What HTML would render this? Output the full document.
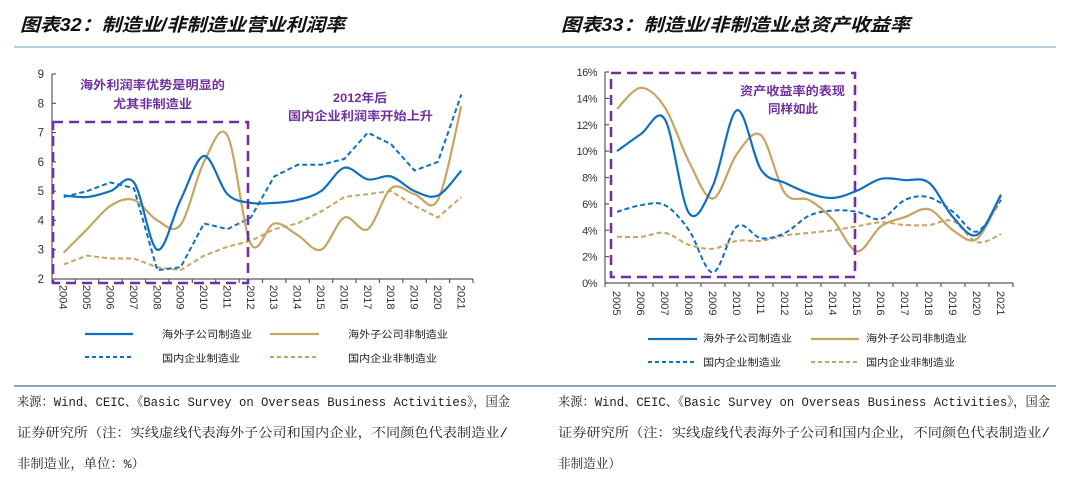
<!DOCTYPE html>
<html><head><meta charset="utf-8"><style>
html,body{margin:0;padding:0;background:#fff;}
svg{display:block;}
text{font-family:"Liberation Sans","Noto Sans CJK SC",sans-serif;}
.t{font-size:18px;font-style:italic;font-weight:bold;fill:#111;}
.ax{stroke:#5a5a5a;stroke-width:1.2;fill:none;}
.yl{font-size:11.5px;fill:#333;}
.xl{font-size:11px;fill:#333;}
.ann{font-size:12px;font-weight:bold;fill:#7030A0;}
.lg{font-size:10px;fill:#222;}
.src{font-size:13px;fill:#222;font-family:"Liberation Mono","Noto Serif CJK SC",monospace;}
.box{fill:none;stroke:#7030A0;stroke-width:2.6;stroke-dasharray:10,6;}
</style></head><body>
<svg id="s" width="1080" height="478" viewBox="0 0 1080 478" xmlns="http://www.w3.org/2000/svg">
<!-- titles -->
<text class="t" x="20" y="31" textLength="325" lengthAdjust="spacingAndGlyphs">图表32：制造业/非制造业营业利润率</text>
<text class="t" x="561" y="31" textLength="349" lengthAdjust="spacingAndGlyphs">图表33：制造业/非制造业总资产收益率</text>
<line x1="14" y1="47" x2="1056" y2="47" stroke="#8fb0cc" stroke-width="1.3"/>

<!-- LEFT CHART -->
<g id="L"></g>
<rect class="box" x="53" y="122" width="195" height="161"/>
<text class="ann" x="80" y="89" textLength="145" lengthAdjust="spacingAndGlyphs">海外利润率优势是明显的</text>
<text class="ann" x="113" y="108" textLength="79" lengthAdjust="spacingAndGlyphs">尤其非制造业</text>
<text class="ann" x="333" y="102" textLength="54" lengthAdjust="spacingAndGlyphs">2012年后</text>
<text class="ann" x="288" y="120" textLength="145" lengthAdjust="spacingAndGlyphs">国内企业利润率开始上升</text>

<!-- left legend -->
<line x1="85" y1="334" x2="133" y2="334" stroke="#0f6fc1" stroke-width="2.2"/>
<text class="lg" x="162" y="338" textLength="90" lengthAdjust="spacingAndGlyphs">海外子公司制造业</text>
<line x1="270" y1="334" x2="319" y2="334" stroke="#c7a461" stroke-width="2.2"/>
<text class="lg" x="348" y="338" textLength="100" lengthAdjust="spacingAndGlyphs">海外子公司非制造业</text>
<line x1="85" y1="357" x2="133" y2="357" stroke="#0f6fc1" stroke-width="2" stroke-dasharray="4,3"/>
<text class="lg" x="162" y="362" textLength="78" lengthAdjust="spacingAndGlyphs">国内企业制造业</text>
<line x1="270" y1="357" x2="319" y2="357" stroke="#c7a461" stroke-width="2" stroke-dasharray="4,3"/>
<text class="lg" x="348" y="362" textLength="89" lengthAdjust="spacingAndGlyphs">国内企业非制造业</text>

<!-- RIGHT CHART -->
<g id="R"></g>
<rect class="box" x="611" y="73" width="244" height="204"/>
<text class="ann" x="740" y="95" textLength="105" lengthAdjust="spacingAndGlyphs">资产收益率的表现</text>
<text class="ann" x="768" y="113" textLength="50" lengthAdjust="spacingAndGlyphs">同样如此</text>

<!-- right legend -->
<line x1="648" y1="339" x2="697" y2="339" stroke="#0f6fc1" stroke-width="2.2"/>
<text class="lg" x="703" y="342" textLength="89" lengthAdjust="spacingAndGlyphs">海外子公司制造业</text>
<line x1="811" y1="339" x2="859" y2="339" stroke="#c7a461" stroke-width="2.2"/>
<text class="lg" x="866" y="342" textLength="101" lengthAdjust="spacingAndGlyphs">海外子公司非制造业</text>
<line x1="648" y1="362" x2="697" y2="362" stroke="#0f6fc1" stroke-width="2" stroke-dasharray="4,3"/>
<text class="lg" x="703" y="366" textLength="78" lengthAdjust="spacingAndGlyphs">国内企业制造业</text>
<line x1="811" y1="362" x2="859" y2="362" stroke="#c7a461" stroke-width="2" stroke-dasharray="4,3"/>
<text class="lg" x="866" y="366" textLength="89" lengthAdjust="spacingAndGlyphs">国内企业非制造业</text>

<!-- source rule -->
<line x1="14" y1="386" x2="1056" y2="386" stroke="#4a6a8a" stroke-width="1.3"/>

<text class="src" x="17" y="406" textLength="493" lengthAdjust="spacingAndGlyphs">来源：Wind、CEIC、《Basic Survey on Overseas Business Activities》，国金</text>
<text class="src" x="17" y="437" textLength="491" lengthAdjust="spacingAndGlyphs">证券研究所（注：实线虚线代表海外子公司和国内企业，不同颜色代表制造业/</text>
<text class="src" x="17" y="468" textLength="128" lengthAdjust="spacingAndGlyphs">非制造业，单位：%）</text>

<text class="src" x="558" y="406" textLength="492" lengthAdjust="spacingAndGlyphs">来源：Wind、CEIC、《Basic Survey on Overseas Business Activities》，国金</text>
<text class="src" x="558" y="437" textLength="492" lengthAdjust="spacingAndGlyphs">证券研究所（注：实线虚线代表海外子公司和国内企业，不同颜色代表制造业/</text>
<text class="src" x="558" y="468" textLength="63" lengthAdjust="spacingAndGlyphs">非制造业）</text>
</svg>
<script>
(function(){
var NS="http://www.w3.org/2000/svg";
function el(parent,tag,attrs,txt){var e=document.createElementNS(NS,tag);for(var k in attrs)e.setAttribute(k,attrs[k]);if(txt!==undefined)e.textContent=txt;parent.appendChild(e);return e;}
function smooth(p){var d="M"+p[0][0].toFixed(1)+","+p[0][1].toFixed(1);for(var i=0;i<p.length-1;i++){var p0=p[i-1]||p[i],p1=p[i],p2=p[i+1],p3=p[i+2]||p2;var c1x=p1[0]+(p2[0]-p0[0])/6,c1y=p1[1]+(p2[1]-p0[1])/6,c2x=p2[0]-(p3[0]-p1[0])/6,c2y=p2[1]-(p3[1]-p1[1])/6;d+=" C"+c1x.toFixed(1)+","+c1y.toFixed(1)+" "+c2x.toFixed(1)+","+c2y.toFixed(1)+" "+p2[0].toFixed(1)+","+p2[1].toFixed(1);}return d;}
function straight(p){return "M"+p.map(function(q){return q[0].toFixed(1)+","+q[1].toFixed(1);}).join(" L");}
var BLUE="#0f6fc1",GOLD="#c7a461";

// LEFT
var L=document.getElementById("L");
var lx0=52,lx1=473,ly0=279,ly1=74,ln=18,lw=(lx1-lx0)/ln,lu=(ly0-ly1)/7;
function LX(i){return lx0+lw*(i+0.5);} function LY(v){return ly0-(v-2)*lu;}
el(L,"path",{d:"M"+lx0+","+ly1+" L"+lx0+","+ly0+" L"+lx1+","+ly0,"class":"ax"});
for(var v=2;v<=9;v++){var y=LY(v);el(L,"line",{x1:lx0,y1:y,x2:lx0+4,y2:y,"class":"ax"});el(L,"text",{x:44,y:y+4,"text-anchor":"end","class":"yl"},String(v));}
for(var k=0;k<=ln;k++){var x=lx0+lw*k;el(L,"line",{x1:x,y1:ly0,x2:x,y2:ly0+4,"class":"ax"});}
for(var i=0;i<ln;i++){var x=LX(i)-1;el(L,"text",{x:0,y:0,transform:"translate("+x+",285) rotate(90)","dominant-baseline":"central","class":"xl"},String(2004+i));}
var lbs=[4.85,4.8,5.0,5.3,3.0,4.7,6.2,4.9,4.6,4.6,4.7,5.0,5.8,5.4,5.5,5.0,4.85,5.7];
var lgs=[2.9,3.7,4.5,4.7,4.0,3.85,6.0,6.9,3.2,3.9,3.5,3.0,4.1,3.7,5.1,4.9,4.7,7.9];
var lbd=[4.8,5.0,5.3,5.1,2.3,2.4,3.9,3.7,4.1,5.5,5.9,5.9,6.1,7.0,6.6,5.7,6.0,8.3];
var lgd=[2.5,2.8,2.7,2.7,2.4,2.3,2.8,3.1,3.3,3.7,3.9,4.3,4.8,4.9,5.0,4.5,4.1,4.8];
function pts(a,fx,fy){return a.map(function(v,i){return [fx(i),fy(v)];});}
el(L,"path",{d:straight(pts(lgd,LX,LY)),fill:"none",stroke:GOLD,"stroke-width":2,"stroke-dasharray":"5,3"});
el(L,"path",{d:straight(pts(lbd,LX,LY)),fill:"none",stroke:BLUE,"stroke-width":2,"stroke-dasharray":"5,3"});
el(L,"path",{d:smooth(pts(lgs,LX,LY)),fill:"none",stroke:GOLD,"stroke-width":2.2});
el(L,"path",{d:smooth(pts(lbs,LX,LY)),fill:"none",stroke:BLUE,"stroke-width":2.2});

// RIGHT
var R=document.getElementById("R");
var rx0=605,rx1=1013,ry0=283,ry1=72,rn=17,rw=(rx1-rx0)/rn,ru=(ry0-ry1)/16;
function RX(i){return rx0+rw*(i+0.5);} function RY(v){return ry0-v*ru;}
el(R,"path",{d:"M"+rx0+","+ry1+" L"+rx0+","+ry0+" L"+rx1+","+ry0,"class":"ax"});
for(var v=0;v<=16;v+=2){var y=RY(v);el(R,"line",{x1:rx0,y1:y,x2:rx0+4,y2:y,"class":"ax"});el(R,"text",{x:597,y:y+4,"text-anchor":"end","class":"yl",style:"font-size:11px;letter-spacing:-0.5px"},v+"%");}
for(var k=0;k<=rn;k++){var x=rx0+rw*k;el(R,"line",{x1:x,y1:ry0,x2:x,y2:ry0+4,"class":"ax"});}
for(var i=0;i<rn;i++){var x=RX(i)-1;el(R,"text",{x:0,y:0,transform:"translate("+x+",291) rotate(90)","dominant-baseline":"central","class":"xl"},String(2005+i));}
var rbs=[10.0,11.3,12.4,5.3,7.4,13.1,8.6,7.6,6.8,6.45,7.0,7.9,7.8,7.6,5.0,3.65,6.7];
var rgs=[13.2,14.8,13.3,9.2,6.4,9.8,11.2,6.8,6.3,4.8,2.4,4.3,5.0,5.6,4.0,3.35,6.6];
var rbd=[5.4,5.9,5.9,4.0,0.8,4.3,3.4,3.8,5.1,5.5,5.4,4.85,6.3,6.5,5.4,3.9,6.3];
var rgd=[3.5,3.5,3.8,2.9,2.6,3.2,3.2,3.6,3.8,4.0,4.3,4.6,4.4,4.4,4.7,3.1,3.7];
el(R,"path",{d:smooth(pts(rgd,RX,RY)),fill:"none",stroke:GOLD,"stroke-width":2,"stroke-dasharray":"5,3"});
el(R,"path",{d:smooth(pts(rbd,RX,RY)),fill:"none",stroke:BLUE,"stroke-width":2,"stroke-dasharray":"5,3"});
el(R,"path",{d:smooth(pts(rgs,RX,RY)),fill:"none",stroke:GOLD,"stroke-width":2.2});
el(R,"path",{d:smooth(pts(rbs,RX,RY)),fill:"none",stroke:BLUE,"stroke-width":2.2});
})();
</script>
</body></html>
